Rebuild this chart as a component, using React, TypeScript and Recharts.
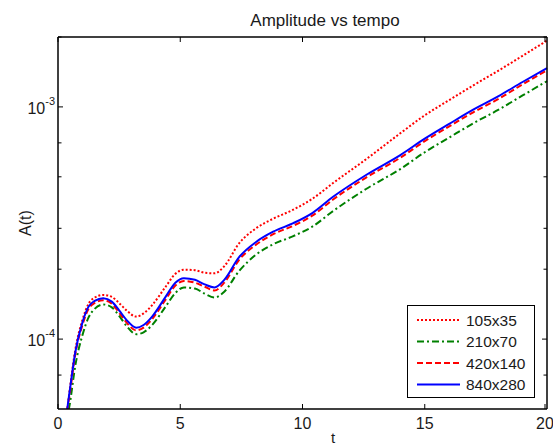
import React from "react";
import { LineChart, Line, XAxis, YAxis } from "recharts";

// time samples and amplitude per grid resolution
const T = [0.3, 0.38, 0.5, 0.7, 1.0, 1.25, 1.5, 1.85, 2.2, 2.5, 2.8, 3.2, 3.5, 3.85, 4.4, 4.8, 5.15, 5.6, 6.0, 6.4, 6.8, 7.4, 8.1, 8.8, 9.6, 10.4, 11.25, 12.6, 14, 15, 16, 17, 18, 19, 20];
const A_105x35 = [4.3e-5, 5.0e-5, 6.3e-5, 8.9e-5, 1.21e-4, 1.42e-4, 1.51e-4, 1.55e-4, 1.52e-4, 1.43e-4, 1.33e-4, 1.25e-4, 1.29e-4, 1.40e-4, 1.68e-4, 1.91e-4, 1.99e-4, 1.98e-4, 1.93e-4, 1.92e-4, 2.06e-4, 2.58e-4, 3.00e-4, 3.30e-4, 3.60e-4, 4.02e-4, 4.70e-4, 5.95e-4, 7.70e-4, 9.20e-4, 1.07e-3, 1.24e-3, 1.43e-3, 1.66e-3, 1.93e-3];
const A_210x70 = [3.7e-5, 4.5e-5, 5.4e-5, 7.6e-5, 1.04e-4, 1.24e-4, 1.35e-4, 1.41e-4, 1.37e-4, 1.26e-4, 1.14e-4, 1.05e-4, 1.07e-4, 1.15e-4, 1.38e-4, 1.58e-4, 1.67e-4, 1.65e-4, 1.57e-4, 1.51e-4, 1.60e-4, 1.96e-4, 2.31e-4, 2.56e-4, 2.77e-4, 3.05e-4, 3.56e-4, 4.43e-4, 5.40e-4, 6.38e-4, 7.38e-4, 8.52e-4, 9.70e-4, 1.12e-3, 1.29e-3];
const A_420x140 = [4.1e-5, 4.9e-5, 6.0e-5, 8.5e-5, 1.15e-4, 1.35e-4, 1.43e-4, 1.47e-4, 1.42e-4, 1.30e-4, 1.18e-4, 1.09e-4, 1.12e-4, 1.22e-4, 1.48e-4, 1.70e-4, 1.78e-4, 1.75e-4, 1.68e-4, 1.62e-4, 1.75e-4, 2.19e-4, 2.55e-4, 2.83e-4, 3.07e-4, 3.40e-4, 3.99e-4, 4.96e-4, 6.04e-4, 7.12e-4, 8.24e-4, 9.50e-4, 1.08e-3, 1.25e-3, 1.44e-3];
const A_840x280 = [4.2e-5, 5.0e-5, 6.2e-5, 8.7e-5, 1.18e-4, 1.38e-4, 1.46e-4, 1.50e-4, 1.45e-4, 1.33e-4, 1.21e-4, 1.12e-4, 1.15e-4, 1.25e-4, 1.52e-4, 1.75e-4, 1.83e-4, 1.80e-4, 1.72e-4, 1.67e-4, 1.80e-4, 2.25e-4, 2.62e-4, 2.90e-4, 3.15e-4, 3.49e-4, 4.10e-4, 5.09e-4, 6.20e-4, 7.30e-4, 8.45e-4, 9.75e-4, 1.11e-3, 1.28e-3, 1.47e-3];

const X_TICKS = [0, 5, 10, 15, 20];
const Y_TICKS = [6e-5, 7e-5, 8e-5, 9e-5, 1e-4, 2e-4, 3e-4, 4e-4, 5e-4, 6e-4, 7e-4, 8e-4, 9e-4, 1e-3, 2e-3];
const Y_MAJOR: Record<string, string> = { "0.0001": "-4", "0.001": "-3" };

const SERIES = [
  { key: "s105", name: "105x35", color: "#ff0000", dash: "2 2", vals: A_105x35 },
  { key: "s210", name: "210x70", color: "#008000", dash: "7 3 2 3", vals: A_210x70 },
  { key: "s420", name: "420x140", color: "#ff0000", dash: "6 3", vals: A_420x140 },
  { key: "s840", name: "840x280", color: "#0000ff", dash: undefined, vals: A_840x280 },
];

const data = T.map((t, i) => {
  const row: Record<string, number> = { t };
  SERIES.forEach((s) => (row[s.key] = s.vals[i]));
  return row;
});

const FONT = "'Liberation Sans', Arial, Helvetica, sans-serif";
const W = 553;
const H = 447;
const AXIS = { stroke: "#000", strokeWidth: 1.5 };

const BottomTick = (p: any) => (
  <g>
    <line x1={p.x} y1={p.y} x2={p.x} y2={p.y - 5} stroke="#000" />
    <text x={p.x} y={p.y + 20} textAnchor="middle" fontSize={16} fontFamily={FONT} fill="#1a1a1a">
      {p.payload.value}
    </text>
  </g>
);

const TopTick = (p: any) => <line x1={p.x} y1={p.y} x2={p.x} y2={p.y + 5} stroke="#000" />;

const LeftTick = (p: any) => {
  const exp = Y_MAJOR[String(p.payload.value)];
  return (
    <g>
      <line x1={p.x} y1={p.y} x2={p.x + (exp ? 5 : 3.5)} y2={p.y} stroke="#000" />
      {exp && (
        <text x={p.x - 3} y={p.y + 7} textAnchor="end" fontSize={16} fontFamily={FONT} fill="#1a1a1a">
          10<tspan dy={-9} fontSize={11}>{exp}</tspan>
        </text>
      )}
    </g>
  );
};

const RightTick = (p: any) => {
  const major = Y_MAJOR[String(p.payload.value)];
  return <line x1={p.x} y1={p.y} x2={p.x - (major ? 5 : 3.5)} y2={p.y} stroke="#000" />;
};

export default function App() {
  return (
    <div style={{ position: "absolute", left: 0, top: 0, width: W, height: H, background: "#fff" }}>
      <LineChart width={W} height={H} data={data} margin={{ top: 36, right: 5, bottom: 0, left: 0 }}>
        <XAxis xAxisId="b" dataKey="t" type="number" domain={[0, 20]} ticks={X_TICKS} height={38}
          tickSize={0} tickMargin={0} tickLine={false} tick={BottomTick} axisLine={AXIS} />
        <XAxis xAxisId="top" orientation="top" dataKey="t" type="number" domain={[0, 20]} ticks={X_TICKS}
          height={1} tickSize={0} tickMargin={0} tickLine={false} tick={TopTick} axisLine={AXIS} />
        <YAxis yAxisId="l" type="number" scale="log" domain={[5e-5, 2e-3]} allowDataOverflow ticks={Y_TICKS}
          width={58} tickSize={0} tickMargin={0} tickLine={false} tick={LeftTick} axisLine={AXIS} />
        <YAxis yAxisId="r" orientation="right" type="number" scale="log" domain={[5e-5, 2e-3]} allowDataOverflow
          ticks={Y_TICKS} width={1} tickSize={0} tickMargin={0} tickLine={false} tick={RightTick}
          axisLine={AXIS} />
        {SERIES.map((s) => (
          <Line key={s.key} xAxisId="b" yAxisId="l" type="monotone" dataKey={s.key} name={s.name}
            stroke={s.color} strokeWidth={2} strokeDasharray={s.dash} dot={false} activeDot={false}
            isAnimationActive={false} />
        ))}
      </LineChart>

      {/* title, axis labels and legend box */}
      <svg width={W} height={H} style={{ position: "absolute", left: 0, top: 0, pointerEvents: "none" }}>
        <text x={325} y={26} textAnchor="middle" fontSize={17} fontFamily={FONT} fill="#1a1a1a">
          Amplitude vs tempo
        </text>
        <text x={333} y={443} textAnchor="middle" fontSize={15} fontFamily={FONT} fill="#1a1a1a">t</text>
        <text transform="translate(31,223) rotate(-90)" textAnchor="middle" fontSize={16} fontFamily={FONT} fill="#1a1a1a">
          A(t)
        </text>
        <rect x={407.5} y={305.5} width={127} height={92} fill="#fff" stroke="#000" />
        {SERIES.map((s, i) => {
          const y = 320 + i * 21.5;
          return (
            <g key={s.key}>
              <line x1={417} x2={460} y1={y} y2={y} stroke={s.color} strokeWidth={2} strokeDasharray={s.dash} />
              <text x={466} y={y + 5.5} fontSize={15.5} fontFamily={FONT} fill="#1a1a1a">{s.name}</text>
            </g>
          );
        })}
      </svg>
    </div>
  );
}
